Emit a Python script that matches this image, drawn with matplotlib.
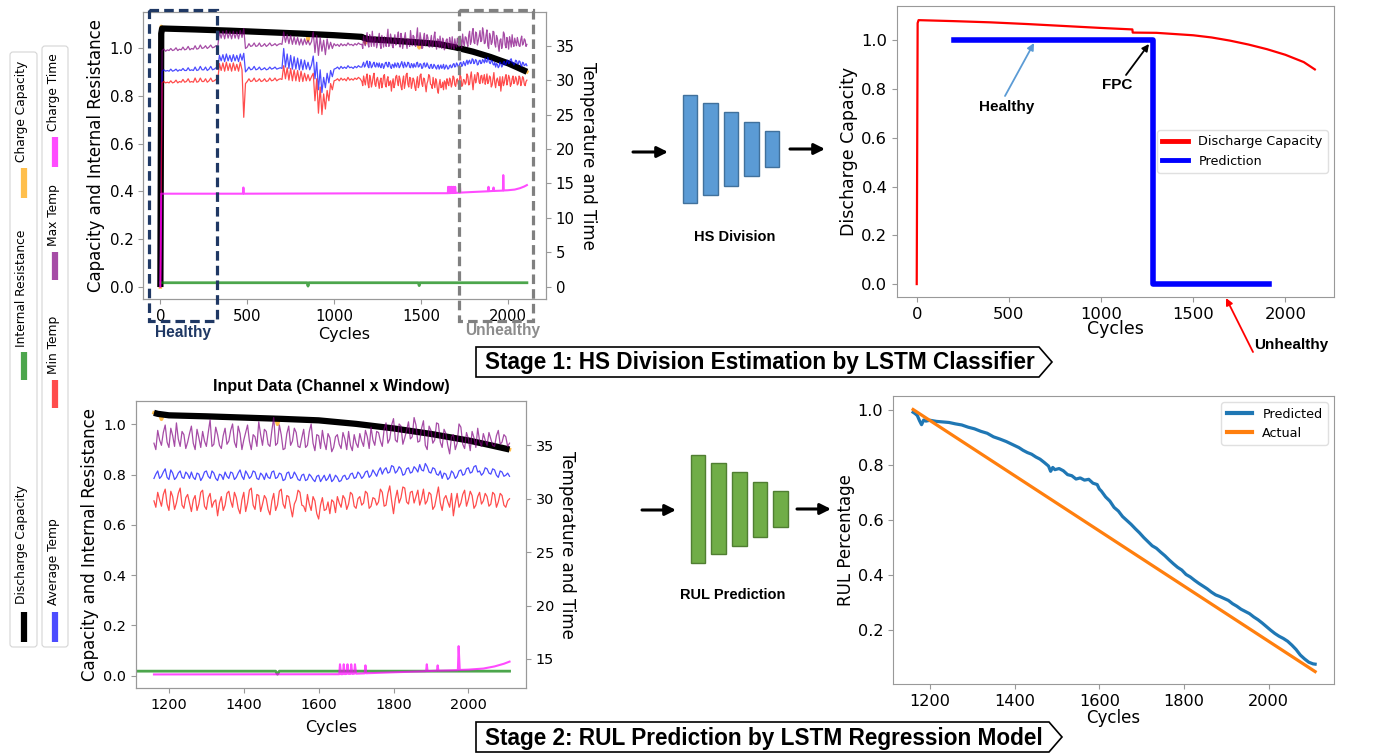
import numpy as np
import matplotlib.pyplot as plt
from matplotlib.patches import Rectangle, Polygon, FancyBboxPatch

W, H = 1390, 756

# ---------------- data ----------------
# early life: one sample every 10 cycles (0..1150)
early_cycles = np.arange(0, 1160, 10)

max_temp_early = [0.0,
    34.3, 34.5, 34.2, 34.4, 34.3, 34.6, 34.3, 34.4, 34.7, 34.3, 34.5, 34.4, 34.8, 34.4, 34.5, 34.9, 34.4,
    34.6, 34.5, 35.0, 34.5, 34.6, 35.1, 34.6, 34.7, 35.0, 34.6, 34.8, 35.1, 34.7, 34.8, 35.0, 34.8,
    37.0, 36.1, 37.1, 36.0, 37.2, 36.1, 37.0, 36.0, 37.1, 36.1, 37.0, 36.0, 37.2, 36.2, 37.5,
    34.6, 34.8, 35.3, 34.9, 35.0, 35.4, 34.9, 35.0, 35.4, 34.9, 35.0, 35.3, 34.9, 35.1, 35.4, 35.0,
    35.1, 35.3, 35.0, 35.2, 35.3, 35.2,
    37.0, 35.5, 36.6, 35.3, 36.5, 35.2, 36.3, 35.2, 36.2, 35.1, 36.0, 35.1, 36.0, 35.2, 35.8, 35.1, 35.6,
    37.0, 34.0, 36.5, 33.6, 36.2, 34.2, 35.8, 33.7, 36.0, 34.5, 35.5, 34.6, 35.3,
    35.0, 35.2, 34.9, 35.3, 35.0, 35.2, 35.0, 35.4, 35.1, 35.2, 35.0, 35.3, 35.1, 35.4, 35.2]
avg_temp_early = [0.0,
    31.3, 31.5, 31.3, 31.4, 31.3, 31.6, 31.3, 31.4, 31.6, 31.3, 31.5, 31.4, 31.7, 31.4, 31.4, 31.8, 31.4,
    31.5, 31.4, 31.9, 31.4, 31.5, 32.0, 31.5, 31.5, 31.9, 31.4, 31.6, 32.0, 31.5, 31.6, 31.8, 31.6,
    33.6, 32.8, 33.7, 32.7, 33.8, 32.8, 33.6, 32.7, 33.7, 32.8, 33.6, 32.7, 33.8, 32.9, 33.9,
    31.2, 31.5, 31.9, 31.5, 31.6, 32.0, 31.5, 31.6, 31.9, 31.5, 31.6, 31.8, 31.5, 31.6, 31.9, 31.6,
    31.7, 31.9, 31.6, 31.7, 31.8, 31.7,
    34.6, 31.9, 33.8, 31.7, 33.6, 31.6, 33.4, 31.6, 33.2, 31.5, 33.0, 31.5, 32.9, 31.6, 32.6, 31.5, 32.2,
    33.5, 30.2, 32.6, 28.6, 31.5, 28.2, 30.4, 28.9, 31.0, 29.6, 31.4, 30.5, 31.6,
    31.7, 31.9, 31.6, 32.0, 31.7, 31.9, 31.7, 32.1, 31.8, 31.9, 31.7, 32.0, 31.8, 32.1, 31.9]
min_temp_early = [0.0,
    29.6, 29.8, 29.6, 29.7, 29.6, 29.9, 29.6, 29.7, 30.0, 29.6, 29.8, 29.7, 30.1, 29.7, 29.8, 30.2, 29.7,
    29.8, 29.7, 30.3, 29.7, 29.8, 30.3, 29.8, 29.8, 30.2, 29.7, 29.9, 30.3, 29.8, 29.9, 30.1, 29.9,
    32.4, 31.4, 32.5, 31.3, 32.6, 31.4, 32.4, 31.3, 32.5, 31.4, 32.3, 31.3, 32.6, 31.5, 24.6,
    29.5, 29.8, 30.2, 29.8, 29.9, 30.3, 29.8, 29.9, 30.2, 29.8, 29.9, 30.2, 29.8, 29.9, 30.3, 29.9,
    30.0, 30.3, 29.9, 30.1, 30.2, 30.1,
    32.1, 30.2, 31.8, 30.0, 31.7, 29.9, 31.5, 29.9, 31.4, 29.8, 31.3, 29.8, 31.0, 29.9, 30.8, 29.9, 30.5,
    31.0, 27.0, 30.2, 25.2, 29.0, 25.0, 28.0, 25.8, 28.5, 27.0, 29.5, 28.6, 29.9,
    30.0, 30.2, 29.9, 30.3, 30.0, 30.2, 29.9, 30.4, 30.0, 30.2, 30.0, 30.3, 30.1, 30.4, 30.2]

# late life (input window): one sample every 5 cycles (1160..2110)
max_temp_late = [
    35.2, 34.6, 36.4, 35.5, 35.0, 36.2, 36.9, 35.3, 34.8, 36.6, 35.9, 34.9, 37.1, 35.6, 34.9, 36.3, 36.0, 34.7, 35.3, 36.1,
    36.8, 35.2, 34.6, 36.5, 35.7, 34.8, 36.3, 35.4, 34.9, 36.2, 37.4, 34.9, 35.1, 36.7, 36.0, 35.0, 34.7, 35.9, 36.6, 35.1,
    35.4, 36.4, 37.0, 35.3, 34.8, 36.8, 36.1, 34.6, 35.5, 36.2, 36.9, 35.4, 34.6, 36.0, 35.8, 34.9, 37.2, 36.0, 35.0, 36.5,
    36.3, 35.1, 34.9, 36.4, 37.6, 35.0, 35.2, 36.9, 36.0, 34.6, 34.7, 36.1, 36.8, 35.0, 35.4, 36.6, 36.2, 34.9, 34.8, 35.7,
    36.5, 34.8, 35.0, 36.3, 37.0, 35.2, 34.5, 36.0, 35.9, 34.7, 36.4, 35.3, 34.6, 36.1, 35.7, 34.4, 34.8, 35.8, 36.0, 35.1,
    34.7, 36.2, 35.6, 34.6, 36.3, 35.0, 34.5, 36.0, 35.2, 34.8, 36.1, 35.4, 34.9, 36.4, 35.8, 34.7, 36.7, 35.5, 35.0, 36.3,
    36.2, 35.4, 34.9, 36.5, 37.1, 35.2, 35.6, 36.9, 37.5, 35.5, 35.3, 37.0, 36.8, 35.1, 35.7, 36.4, 37.2, 35.6, 35.8, 37.6,
    36.9, 35.3, 35.4, 36.6, 37.3, 35.0, 34.6, 36.8, 36.4, 35.2, 35.5, 37.1, 37.0, 35.3, 34.8, 36.5, 36.1, 35.0, 34.2, 35.8,
    36.0, 34.6, 35.2, 37.0, 36.7, 35.1, 34.7, 36.2, 35.6, 34.5, 36.3, 35.7, 34.8, 36.6, 35.4, 34.9, 36.1, 35.5, 35.0, 36.2,
    35.6, 35.0, 34.9, 35.9, 36.4, 35.1, 35.3, 36.0, 35.8, 34.9, 35.2]
avg_temp_late = [
    31.9, 32.3, 32.6, 31.9, 32.1, 32.5, 32.8, 32.0, 31.8, 32.7, 32.4, 31.8, 32.0, 32.4, 32.6, 32.0, 31.9, 32.5, 32.3, 31.9,
    32.5, 32.0, 31.8, 32.4, 32.3, 31.7, 32.0, 32.5, 32.6, 32.1, 31.9, 32.6, 32.4, 31.9, 31.7, 32.3, 32.2, 31.8, 32.5, 32.1,
    31.9, 32.5, 32.4, 31.8, 32.0, 32.4, 32.7, 32.1, 31.8, 32.6, 32.3, 31.9, 32.1, 32.6, 32.5, 31.9, 31.8, 32.4, 32.2, 31.8,
    32.4, 32.0, 31.9, 32.5, 32.6, 31.9, 32.0, 32.4, 32.3, 31.7, 31.8, 32.4, 32.5, 31.9, 32.0, 32.5, 32.2, 31.8, 31.7, 32.2,
    32.3, 31.7, 31.8, 32.3, 32.1, 31.8, 31.6, 32.1, 32.2, 31.6, 31.9, 32.2, 31.7, 31.9, 32.3, 31.6, 31.8, 32.2, 32.0, 31.6,
    31.7, 32.1, 32.2, 31.8, 31.9, 32.3, 32.4, 31.9, 32.0, 32.5, 32.3, 31.9, 32.1, 32.5, 32.6, 32.0, 32.2, 32.7, 32.4, 32.1,
    32.6, 32.9, 32.3, 32.7, 32.9, 32.4, 32.5, 33.1, 33.0, 32.4, 32.6, 33.0, 32.8, 32.2, 32.3, 32.8, 32.9, 32.4, 32.5, 33.0,
    32.8, 32.5, 33.2, 32.7, 32.6, 33.3, 33.0, 32.5, 32.4, 32.9, 32.8, 32.3, 32.2, 32.6, 31.9, 32.4, 32.3, 31.8, 32.0, 32.6,
    32.4, 31.9, 32.1, 32.6, 32.7, 32.2, 32.3, 32.8, 32.9, 32.4, 32.5, 33.0, 33.1, 32.5, 32.6, 32.2, 32.4, 32.9, 32.8, 32.4,
    32.3, 32.8, 32.7, 32.2, 32.0, 32.6, 32.5, 32.1, 32.2, 32.4, 32.1]
min_temp_late = [
    29.8, 29.2, 30.6, 29.9, 29.3, 30.4, 30.9, 29.5, 28.9, 30.7, 30.2, 29.0, 29.6, 30.5, 31.0, 29.4, 29.1, 30.1, 30.4, 29.6,
    28.8, 29.9, 30.3, 28.9, 29.5, 30.6, 30.8, 29.3, 29.0, 30.1, 30.5, 29.2, 29.7, 29.9, 28.4, 29.6, 30.2, 28.9, 29.4, 30.5,
    30.7, 29.8, 29.2, 30.6, 30.1, 29.1, 28.6, 29.9, 30.6, 28.8, 29.6, 30.8, 31.0, 29.4, 29.0, 30.4, 30.3, 28.8, 29.5, 30.3,
    30.0, 29.0, 28.5, 29.8, 30.5, 28.9, 29.4, 30.7, 30.9, 29.5, 29.1, 30.3, 30.2, 29.2, 28.3, 29.5, 29.9, 30.8, 30.6, 29.4,
    29.3, 28.8, 30.4, 29.5, 28.9, 30.2, 29.8, 28.6, 28.1, 29.4, 30.1, 28.9, 29.0, 29.7, 28.6, 29.9, 29.7, 28.7, 30.2, 29.6,
    29.2, 30.3, 30.0, 29.0, 29.5, 30.6, 30.4, 29.3, 29.1, 30.0, 30.2, 29.4, 29.6, 30.7, 30.5, 29.1, 29.3, 30.1, 30.0, 29.4,
    29.7, 30.9, 30.6, 29.3, 29.4, 30.5, 31.2, 29.8, 28.6, 30.0, 30.8, 29.6, 30.1, 31.1, 31.0, 29.7, 29.5, 30.6, 30.7, 29.6,
    30.2, 30.8, 29.4, 30.0, 30.9, 29.5, 29.8, 30.6, 30.4, 29.0, 29.3, 30.2, 31.1, 29.6, 28.9, 30.0, 30.3, 29.7, 29.2, 30.5,
    28.4, 29.6, 30.5, 29.2, 29.6, 30.4, 30.8, 29.3, 29.9, 30.7, 30.3, 29.1, 29.4, 30.2, 30.6, 29.5, 29.8, 30.5, 30.2, 29.3,
    29.5, 30.6, 30.4, 29.2, 29.7, 30.5, 30.3, 29.4, 29.2, 29.8, 30.0]

# charge time (right axis, same scale as temperature)
ct_cycles = [0, 5, 475, 478, 481, 1160, 1655, 1657, 1660, 1665, 1667, 1670, 1675, 1677, 1680,
             1685, 1687, 1690, 1695, 1697, 1700, 1723, 1725, 1727, 1800, 1887, 1889, 1891,
             1916, 1918, 1920, 1972, 1974, 1977, 2000, 2040, 2070, 2095, 2110]
ct_values = [0.0, 13.5, 13.5, 14.4, 13.5, 13.55, 13.57, 14.5, 13.57, 13.58, 14.5, 13.58, 13.6, 14.5, 13.6,
             13.6, 14.5, 13.6, 13.62, 14.5, 13.62, 13.65, 14.4, 13.66, 13.75, 13.85, 14.5, 13.86,
             13.9, 14.4, 13.9, 13.95, 16.2, 13.97, 14.0, 14.1, 14.3, 14.55, 14.75]

# discharge / charge capacity and internal resistance (left axis)
dc_cycles = [0, 5, 10, 200, 400, 600, 800, 1000, 1160, 1170, 1200, 1300, 1400, 1500, 1600,
             1700, 1800, 1900, 2000, 2050, 2110]
dc_values = [0.0, 1.06, 1.081, 1.077, 1.072, 1.066, 1.060, 1.053, 1.046, 1.042, 1.036, 1.032, 1.027,
             1.022, 1.016, 1.002, 0.984, 0.962, 0.936, 0.920, 0.900]
cc_cycles = [0, 5, 10, 200, 400, 600, 800, 845, 850, 855, 1000, 1160, 1175, 1180, 1185, 1200,
             1300, 1400, 1485, 1490, 1495, 1500, 1600, 1700, 1800, 1900, 2000, 2050, 2110]
cc_values = [0.0, 1.09, 1.081, 1.077, 1.072, 1.066, 1.060, 1.059, 1.032, 1.058, 1.053, 1.046, 1.038,
             1.02, 1.037, 1.036, 1.032, 1.027, 1.023, 1.0, 1.022, 1.022, 1.016, 1.002, 0.984, 0.962,
             0.936, 0.920, 0.900]
ir_cycles = [0, 845, 850, 855, 1485, 1490, 1495, 2110]
ir_values = [0.018, 0.018, 0.004, 0.018, 0.018, 0.006, 0.018, 0.018]

# HS division panel
hs_cycles = [0, 5, 10, 200, 400, 600, 800, 1000, 1170, 1172, 1300, 1400, 1500, 1600, 1700,
             1800, 1900, 2000, 2100, 2160]
hs_capacity = [0.0, 1.07, 1.082, 1.078, 1.073, 1.066, 1.058, 1.050, 1.044, 1.031, 1.030, 1.025,
               1.020, 1.011, 0.998, 0.982, 0.963, 0.940, 0.910, 0.880]
hs_pred_cycles = [200, 1280, 1280, 1910]
hs_pred = [1, 1, 0, 0]

# RUL panel
rul_cycles = [1160, 1165, 1170, 1175, 1180, 1185, 1190, 1200, 1215, 1230,
              1245, 1260, 1275, 1290, 1305, 1320, 1335, 1350, 1365, 1380,
              1395, 1410, 1420, 1430, 1440, 1450, 1460, 1470, 1480, 1485,
              1490, 1495, 1505, 1515, 1525, 1535, 1545, 1555, 1565, 1575,
              1585, 1595, 1600, 1605, 1615, 1625, 1635, 1645, 1655, 1665,
              1675, 1685, 1695, 1705, 1715, 1725, 1735, 1745, 1755, 1765,
              1775, 1785, 1795, 1805, 1815, 1825, 1835, 1845, 1855, 1865,
              1875, 1885, 1895, 1905, 1915, 1925, 1935, 1945, 1955, 1965,
              1975, 1985, 1995, 2005, 2015, 2025, 2035, 2045, 2055, 2065,
              2075, 2085, 2095, 2105, 2110]
rul_pred = [0.990, 0.985, 0.978, 0.960, 0.945, 0.962, 0.958, 0.961, 0.957, 0.955,
            0.953, 0.948, 0.944, 0.936, 0.930, 0.921, 0.914, 0.901, 0.893, 0.884,
            0.873, 0.862, 0.852, 0.844, 0.838, 0.828, 0.820, 0.808, 0.795, 0.776,
            0.790, 0.782, 0.786, 0.778, 0.764, 0.760, 0.748, 0.752, 0.744, 0.747,
            0.733, 0.728, 0.712, 0.704, 0.683, 0.668, 0.645, 0.632, 0.612, 0.598,
            0.584, 0.568, 0.553, 0.536, 0.521, 0.506, 0.497, 0.483, 0.470, 0.455,
            0.441, 0.428, 0.418, 0.402, 0.393, 0.381, 0.370, 0.360, 0.350, 0.338,
            0.328, 0.322, 0.315, 0.308, 0.296, 0.287, 0.276, 0.268, 0.260, 0.248,
            0.238, 0.226, 0.213, 0.200, 0.188, 0.178, 0.170, 0.160, 0.146, 0.130,
            0.110, 0.096, 0.084, 0.078, 0.077]
rul_actual_cycles = [1160, 2110]
rul_actual = [1.0, 0.05]

late_cycles = 1160 + 5 * np.arange(len(max_temp_late))
all_cycles = np.concatenate([early_cycles, late_cycles])
max_temp = np.array(max_temp_early + max_temp_late)
avg_temp = np.array(avg_temp_early + avg_temp_late)
min_temp = np.array(min_temp_early + min_temp_late)

# ---------------- figure ----------------
fig = plt.figure(figsize=(W / 100, H / 100), dpi=100)
BOLD = ['Liberation Sans', 'DejaVu Sans']
SPINE = '#999999'


def px_rect(l, t, r, b):
    return [l / W, 1 - b / H, (r - l) / W, (b - t) / H]


def style(ax, size):
    for s in ax.spines.values():
        s.set_color(SPINE)
    ax.tick_params(labelsize=size, color=SPINE, length=3.5)


def channel_plot(rect, sl, tick_size, lab_size):
    ax = fig.add_axes(rect)
    cmask = np.array(cc_cycles) >= sl
    dmask = np.array(dc_cycles) >= sl
    ax.plot(np.array(cc_cycles)[cmask], np.array(cc_values)[cmask], color='orange', alpha=0.7, lw=2.5)
    ax.plot(np.array(dc_cycles)[dmask], np.array(dc_values)[dmask], color='black', lw=4.5,
            solid_capstyle='butt')
    ax.plot(ir_cycles, ir_values, color='green', alpha=0.7, lw=2)
    axr = ax.twinx()
    m = all_cycles >= sl
    axr.plot(all_cycles[m], max_temp[m], color='purple', alpha=0.7, lw=0.9)
    axr.plot(all_cycles[m], avg_temp[m], color='blue', alpha=0.7, lw=0.9)
    axr.plot(all_cycles[m], min_temp[m], color='red', alpha=0.7, lw=0.9)
    cm = np.array(ct_cycles) >= sl
    axr.plot(np.array(ct_cycles)[cm], np.array(ct_values)[cm], color='magenta', alpha=0.7, lw=1.5)
    ax.set_ylabel('Capacity and Internal Resistance', fontsize=lab_size, labelpad=3)
    axr.set_ylabel('Temperature and Time', fontsize=lab_size, rotation=270, labelpad=16)
    style(ax, tick_size)
    style(axr, tick_size)
    return ax, axr


# top-left: whole life
ax1, ax1r = channel_plot(px_rect(143, 12, 546, 299), 0, 10.7, 12)
ax1.set_xlim(-100, 2220)
ax1.set_ylim(-0.05, 1.15)
ax1r.set_ylim(-1.8, 39.9)
ax1.set_xticks([0, 500, 1000, 1500, 2000])
ax1.set_yticks([0.0, 0.2, 0.4, 0.6, 0.8, 1.0])
ax1r.set_yticks([0, 5, 10, 15, 20, 25, 30, 35])
ax1.set_xlabel('Cycles', fontsize=11.5, labelpad=2)

# bottom-left: input window
ax3, ax3r = channel_plot(px_rect(136, 401, 526, 688), 1160, 10.4, 12)
ax3.set_xlim(1112, 2154)
ax3.set_ylim(-0.049, 1.093)
ax3r.set_ylim(12.28, 39.15)
ax3.set_xticks([1200, 1400, 1600, 1800, 2000])
ax3.set_yticks([0.0, 0.2, 0.4, 0.6, 0.8, 1.0])
ax3r.set_yticks([15, 20, 25, 30, 35])
ax3.set_xlabel('Cycles', fontsize=11.5, labelpad=6)
ax3.set_title('Input Data (Channel x Window)', fontsize=11.5, fontweight='bold', family=BOLD, pad=7)

# top-right: HS division
ax2 = fig.add_axes(px_rect(897, 6, 1334, 297))
ax2.plot(hs_cycles, hs_capacity, color='red', lw=1.6, label='Discharge Capacity')
ax2.plot(hs_pred_cycles, hs_pred, color='blue', lw=4, label='Prediction')
ax2.set_xlim(-107, 2264)
ax2.set_ylim(-0.053, 1.14)
ax2.set_xticks([0, 500, 1000, 1500, 2000])
ax2.set_yticks([0.0, 0.2, 0.4, 0.6, 0.8, 1.0])
ax2.set_xlabel('Cycles', fontsize=12.5, labelpad=-1)
ax2.set_ylabel('Discharge Capacity', fontsize=12.5, labelpad=2)
style(ax2, 11.8)
leg2 = ax2.legend(loc='center right', fontsize=9.2, framealpha=1, edgecolor='#e0e0e0')
for ln in leg2.get_lines():
    ln.set_linewidth(3.5)

# bottom-right: RUL
ax4 = fig.add_axes(px_rect(893, 396, 1334, 684))
ax4.plot(rul_cycles, rul_pred, color='tab:blue', lw=2.3, label='Predicted')
ax4.plot(rul_actual_cycles, rul_actual, color='tab:orange', lw=2.3, label='Actual')
ax4.set_xlim(1112.5, 2154.6)
ax4.set_ylim(0.005, 1.049)
ax4.set_xticks([1200, 1400, 1600, 1800, 2000])
ax4.set_yticks([0.2, 0.4, 0.6, 0.8, 1.0])
ax4.set_xlabel('Cycles', fontsize=12, labelpad=0)
ax4.set_ylabel('RUL Percentage', fontsize=12, labelpad=2)
style(ax4, 11.6)
leg4 = ax4.legend(loc='upper right', fontsize=9.2, framealpha=1, edgecolor='#e0e0e0')
for ln in leg4.get_lines():
    ln.set_linewidth(3)

# ---------------- overlay in pixel coordinates ----------------
ov = fig.add_axes([0, 0, 1, 1])
ov.set_xlim(0, W)
ov.set_ylim(H, 0)
ov.axis('off')

# rotated legends
for (l, t, r, b) in [(10, 52, 37, 647), (42, 46, 68, 647)]:
    ov.add_patch(FancyBboxPatch((l, t), r - l, b - t, boxstyle='round,pad=0,rounding_size=3',
                                facecolor='white', edgecolor='#d5d5d5', lw=0.8))
legend_items = [
    (23.5, 'black', 1.0, 612, 642, 'Discharge Capacity', 604),
    (23.5, 'green', 0.7, 352, 380, 'Internal Resistance', 347),
    (23.5, 'orange', 0.7, 168, 198, 'Charge Capacity', 162),
    (55, 'blue', 0.7, 612, 642, 'Average Temp', 605),
    (55, 'red', 0.7, 380, 408, 'Min Temp', 374),
    (55, 'purple', 0.7, 252, 280, 'Max Temp', 246),
    (55, 'magenta', 0.7, 137, 167, 'Charge Time', 131),
]
for x, c, a, y0, y1, name, ty in legend_items:
    ov.plot([x, x], [y0, y1], color=c, alpha=a, lw=4.5, solid_capstyle='butt')
    ov.text(x - 1.5, ty, name, rotation=90, ha='center', va='bottom', fontsize=8.8)

# healthy / unhealthy windows on the first panel
ov.add_patch(Rectangle((149, 10), 68, 311, fill=False, edgecolor='#1f3864', lw=2.3,
                       linestyle=(0, (3, 1.6))))
ov.add_patch(Rectangle((459, 10), 74, 311, fill=False, edgecolor='#808080', lw=2.3,
                       linestyle=(0, (3, 1.6))))
ov.text(183, 332, 'Healthy', color='#1f3864', fontsize=11.2, fontweight='bold', family=BOLD,
        ha='center', va='center')
ov.text(503, 331, 'Unhealthy', color='#8c8c8c', fontsize=11.2, fontweight='bold', family=BOLD,
        ha='center', va='center')

# network blocks
blue_bars = [(683, 95, 697, 203), (703, 103, 718, 195), (724, 112, 738, 186),
             (744, 122, 759, 176), (765, 131, 779, 167)]
green_bars = [(691, 455, 705, 563), (711, 463, 726, 554), (732, 472, 747, 546),
              (753, 482, 767, 537), (773, 491, 788, 527)]
for bars, fc, ec in [(blue_bars, '#5b9bd5', '#41719c'), (green_bars, '#70ad47', '#507e32')]:
    for l, t, r, b in bars:
        ov.add_patch(Rectangle((l, t), r - l, b - t, facecolor=fc, edgecolor=ec, lw=1))

arrow = dict(arrowstyle='-|>', color='black', lw=2.2, mutation_scale=16, shrinkA=0, shrinkB=0)
for x0, x1, y in [(633, 668, 152), (790, 825, 149), (642, 676, 510), (797, 831, 509)]:
    ov.annotate('', xy=(x1, y), xytext=(x0, y), arrowprops=arrow)
ov.text(735, 237, 'HS Division', fontsize=10.5, fontweight='bold', family=BOLD,
        ha='center', va='center')
ov.text(733, 595, 'RUL Prediction', fontsize=10.5, fontweight='bold', family=BOLD,
        ha='center', va='center')

# annotations on HS panel
ov.annotate('', xy=(1034, 43), xytext=(1005, 96),
            arrowprops=dict(arrowstyle='-|>', color='#5b9bd5', lw=1.3, mutation_scale=10,
                            shrinkA=0, shrinkB=0))
ov.text(1007, 107, 'Healthy', fontsize=11, fontweight='bold', family=BOLD, ha='center', va='center')
ov.annotate('', xy=(1149, 44), xytext=(1126, 75),
            arrowprops=dict(arrowstyle='-|>', color='black', lw=1.3, mutation_scale=10,
                            shrinkA=0, shrinkB=0))
ov.text(1117, 85, 'FPC', fontsize=11, fontweight='bold', family=BOLD, ha='center', va='center')
ov.annotate('', xy=(1226, 298), xytext=(1253, 352),
            arrowprops=dict(arrowstyle='-|>', color='red', lw=1.3, mutation_scale=10,
                            shrinkA=0, shrinkB=0))
ov.text(1291, 345, 'Unhealthy', fontsize=11, fontweight='bold', family=BOLD, ha='center', va='center')

# stage banners
for t, b, tip, label in [(347, 377, 1052, 'Stage 1: HS Division Estimation by LSTM Classifier'),
                         (722, 752, 1062, 'Stage 2: RUL Prediction by LSTM Regression Model')]:
    mid = (t + b) / 2
    ov.add_patch(Polygon([(476, t), (tip - 13, t), (tip, mid), (tip - 13, b), (476, b)],
                         closed=True, facecolor='white', edgecolor='black', lw=1.2))
    ov.text(485, mid + 1, label, fontsize=16.3, fontweight='bold', family=BOLD,
            ha='left', va='center')

fig.savefig('out.png', dpi=100)
